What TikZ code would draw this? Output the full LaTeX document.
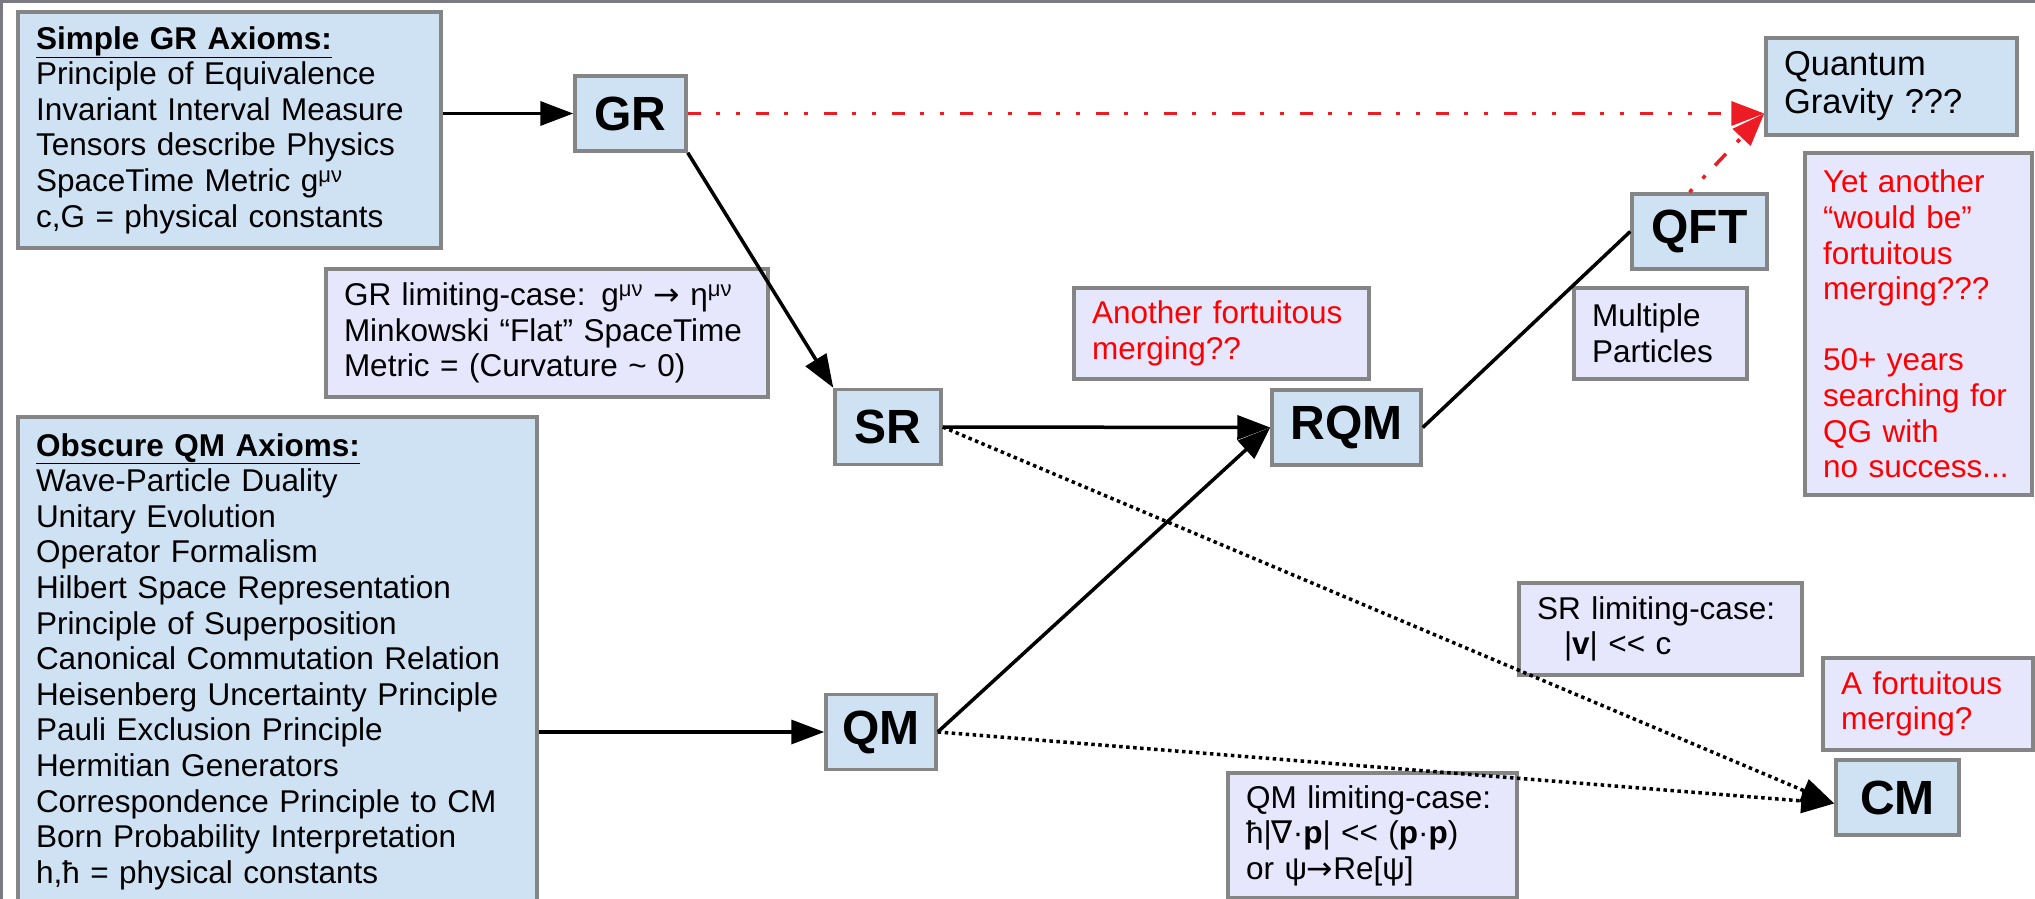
\documentclass[tikz,border=0pt]{standalone}
\usepackage{fontspec}
\setmainfont{Liberation Sans}
\newfontfamily\mathsym{DejaVu Sans}
\usetikzlibrary{arrows.meta}
\definecolor{boxblue}{RGB}{207,226,243}
\definecolor{boxlilac}{RGB}{230,230,252}
\definecolor{boxedge}{RGB}{133,133,133}
\definecolor{framegray}{RGB}{122,122,130}
\definecolor{linkred}{RGB}{237,28,36}
\tikzset{theory/.style={draw=boxedge, line width=3.5pt, fill=boxblue, inner sep=0pt,
    minimum height=75pt, font=\fontsize{48}{52}\selectfont\bfseries}}
\tikzset{axioms/.style={draw=boxedge, line width=3.5pt, fill=boxblue, inner xsep=18pt,
    inner ysep=0pt, align=left, font=\fontsize{31.5}{35.6}\selectfont}}
\tikzset{remark/.style={axioms, fill=boxlilac}}
\tikzset{redremark/.style={remark, text=red}}
\tikzset{flow/.style={line width=3.5pt, -{Triangle[length=33pt,width=24pt]}}}
\tikzset{limit/.style={flow, dash pattern=on 3.5pt off 3.5pt}}
\tikzset{hope/.style={line width=3.5pt, draw=linkred, -{Triangle[length=33pt,width=24pt]}}}
\begin{document}
\begin{tikzpicture}[x=1pt, y=-1pt]
   \useasboundingbox (0,0) rectangle (2035,899);
   \clip (0,0) rectangle (2035,899);
   \draw[framegray, line width=3pt] (0,1.5) -- (2035,1.5);
   \draw[framegray, line width=3pt] (1.5,0) -- (1.5,899);
   \node[axioms, text width=387pt, minimum height=236pt] (axGR) at (229.5,130)
      {\underline{\textbf{Simple GR Axioms:}}\\Principle of Equivalence\\Invariant Interval Measure\\Tensors describe Physics\\SpaceTime Metric g\textsuperscript{μν}\\c,G = physical constants};
   \node[theory, minimum width=111pt] (GR) at (630.5,113.5) {GR};
   \node[remark, text width=406pt, minimum height=128pt] (limGR) at (547,333)
      {GR limiting-case: g\textsuperscript{μν} {\mathsym →} η\textsuperscript{μν}\\Minkowski “Flat” SpaceTime\\Metric = (Curvature \textasciitilde{} 0)};
   \node[theory, minimum width=106pt] (SR) at (888,427) {SR};
   \node[axioms, text width=483pt, minimum height=489pt] (axQM) at (277.5,661.5)
      {\underline{\textbf{Obscure QM Axioms:}}\\Wave-Particle Duality\\Unitary Evolution\\Operator Formalism\\Hilbert Space Representation\\Principle of Superposition\\Canonical Commutation Relation\\Heisenberg Uncertainty Principle\\Pauli Exclusion Principle\\Hermitian Generators\\Correspondence Principle to CM\\Born Probability Interpretation\\h,ħ = physical constants};
   \node[theory, minimum width=110pt] (QM) at (881,732) {QM};
   \node[redremark, text width=259pt, minimum height=91pt] (mergeRQM) at (1221.5,333.5)
      {Another fortuitous\\merging??};
   \node[theory, minimum width=149pt] (RQM) at (1346.5,427.5) {RQM};
   \node[theory, minimum width=135pt] (QFT) at (1699.5,231.5) {QFT};
   \node[axioms, text width=215pt, minimum height=97pt, font=\fontsize{34.5}{38}\selectfont] (QG) at (1891.5,86.5)
      {Quantum\\Gravity ???};
   \node[remark, text width=137pt, minimum height=91pt] (multi) at (1660.5,333.5)
      {Multiple\\Particles};
   \node[redremark, text width=191pt, minimum height=342pt] (yetQG) at (1918.5,324)
      {Yet another\\“would be”\\fortuitous\\merging???\\[35.6pt]50+ years\\searching for\\QG with\\no success...};
   \node[remark, text width=247pt, minimum height=92pt] (limSR) at (1660.5,629)
      {SR limiting-case:\\\hspace*{27pt}|\textbf{v}| <\kern0pt< c};
   \node[redremark, text width=174pt, minimum height=92pt] (mergeCM) at (1928,704)
      {A fortuitous\\merging?};
   \node[theory, minimum width=123pt] (CM) at (1897.5,797.5) {CM};
   \node[remark, text width=253pt, minimum height=125pt] (limQM) at (1372.5,835.5)
      {QM limiting-case:\\ħ|{\mathsym ∇}·\textbf{p}| <\kern0pt< (\textbf{p}·\textbf{p})\\or ψ{\mathsym →}Re[ψ]};
   \draw[flow] (axGR.east |- GR.west) -- (GR.west);
   \draw[flow] (axQM.east |- QM.west) -- (QM.west);
   \draw[flow] (GR.south east) -- (SR.north west);
   \draw[flow] (SR.east) -- (RQM.west);
   \draw[flow] (QM.east) -- (RQM.west);
   \draw[line width=3.5pt] (RQM.east) -- (QFT.west);
   \draw[limit] (SR.east) -- ([yshift=-6pt]CM.west);
   \draw[limit] (QM.east) -- ([yshift=-6pt]CM.west);
   \draw[hope, dash pattern=on 13pt off 15pt on 4pt off 16pt on 4pt off 16pt] (GR.east) -- (GR.east -| QG.west);
   \draw[hope, dash pattern=on 4pt off 15pt on 4pt off 14pt on 16pt off 16pt] ([xshift=-10pt]QFT.north) -- (GR.east -| QG.west);
\end{tikzpicture}
\end{document}
